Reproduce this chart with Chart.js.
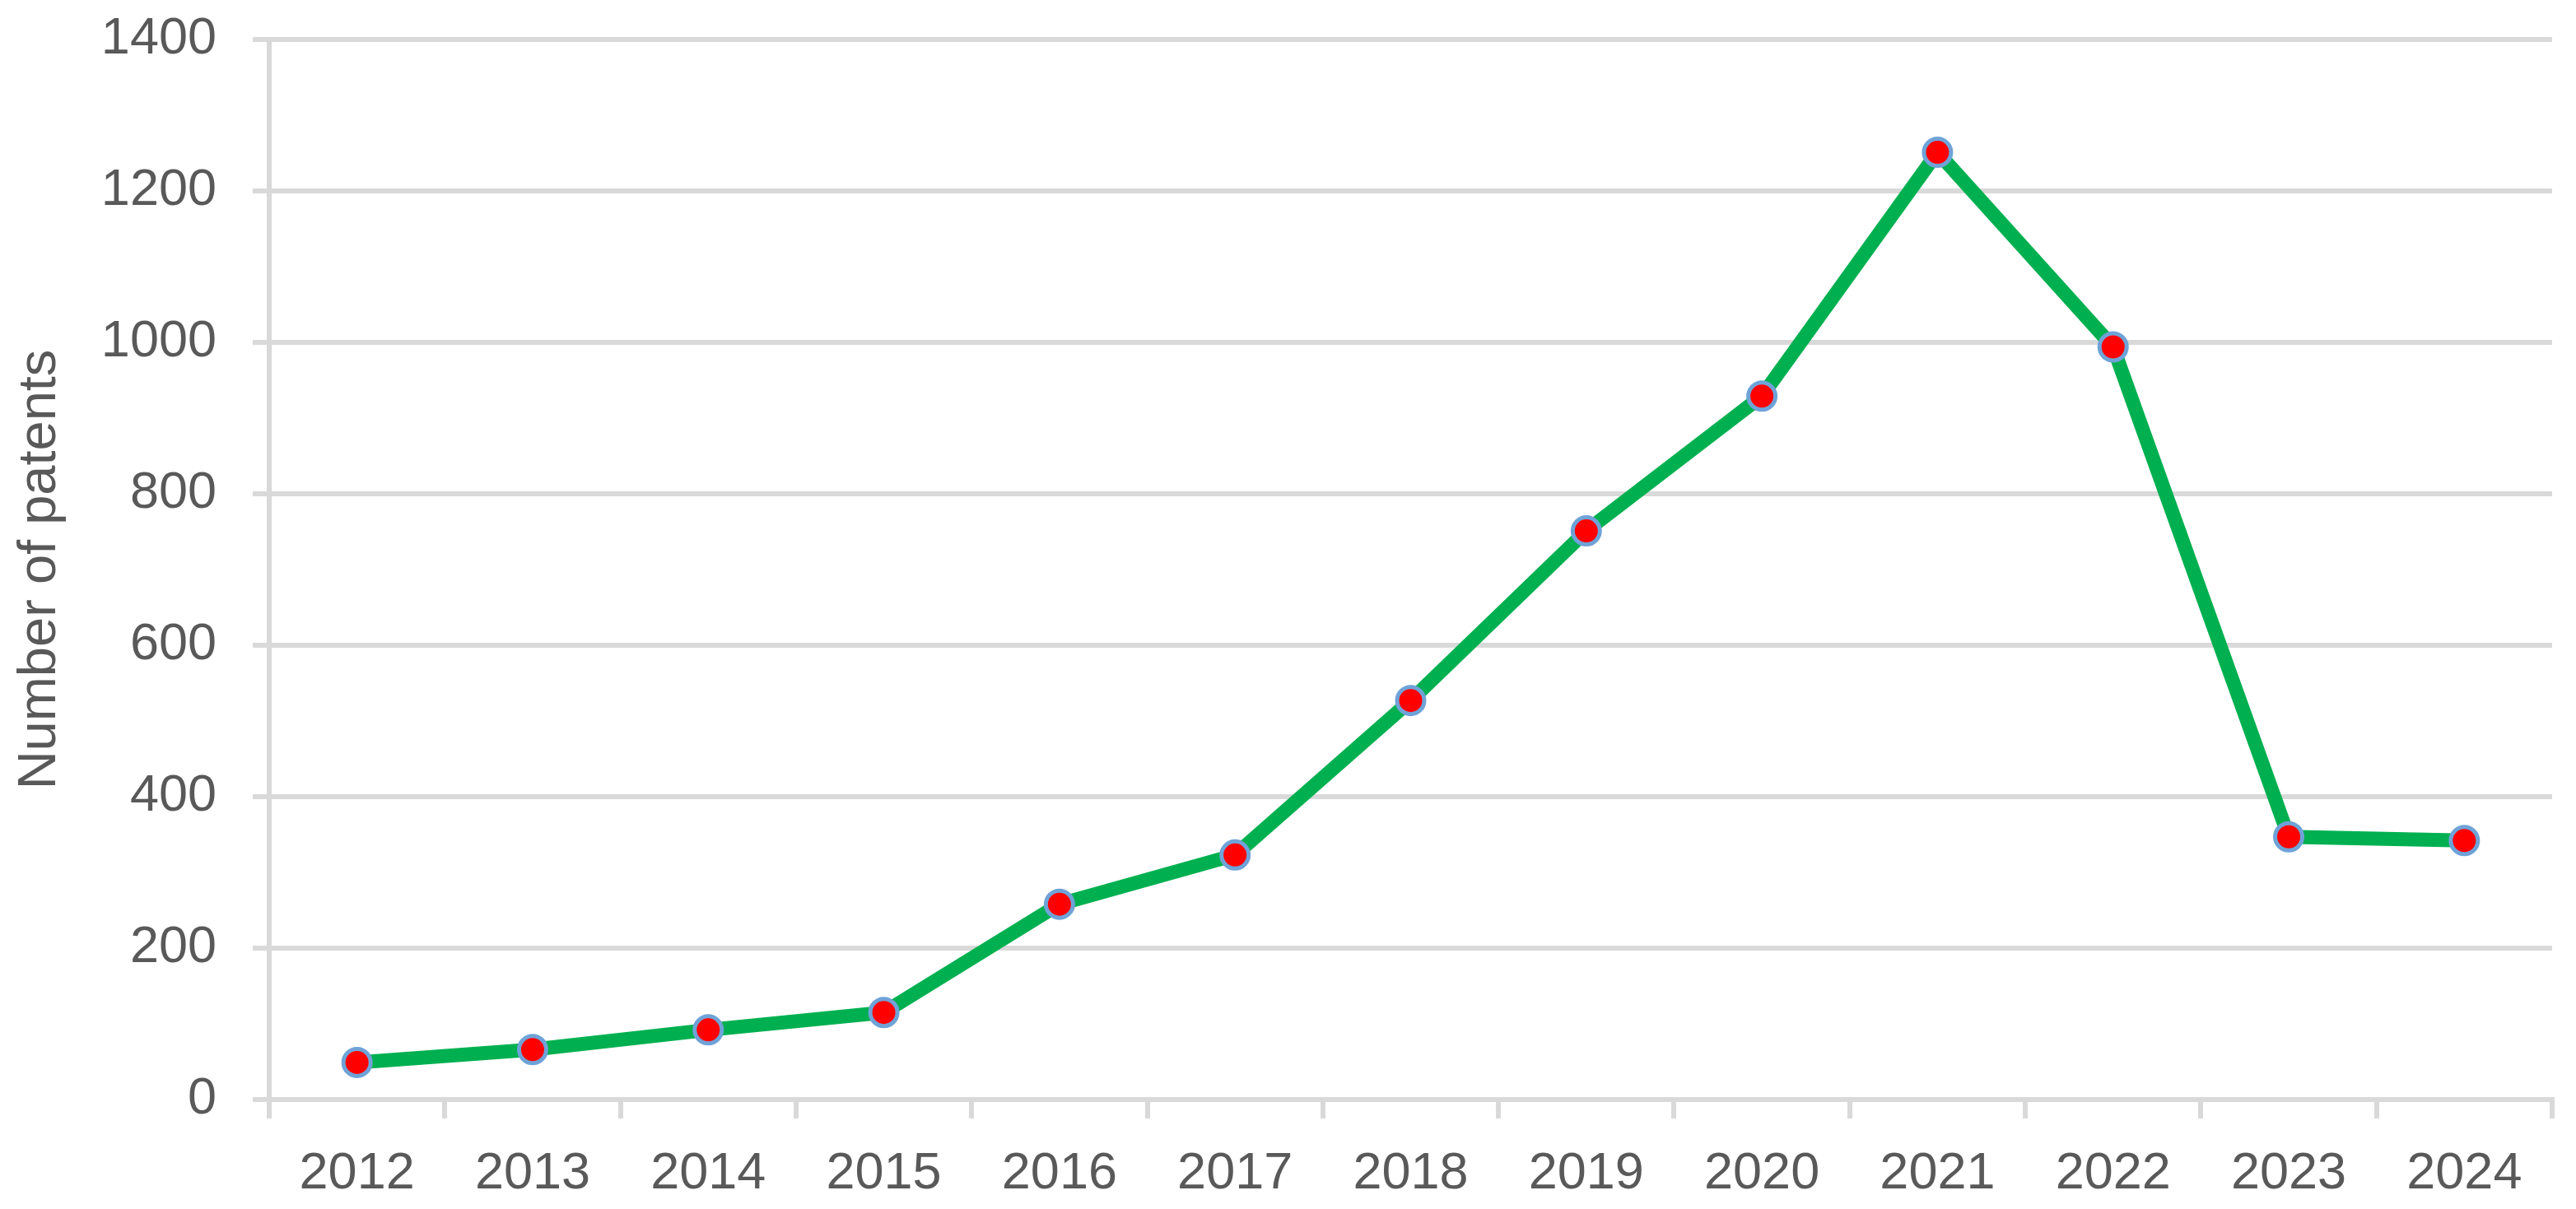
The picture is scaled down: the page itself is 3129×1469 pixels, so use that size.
<!DOCTYPE html>
<html>
<head>
<meta charset="utf-8">
<script src="https://cdn.jsdelivr.net/npm/chart.js@4.4.1/dist/chart.umd.min.js"></script>
<style>
  html, body { margin: 0; padding: 0; background: #ffffff; }
  #wrap { width: 3129px; height: 1469px; position: relative; }
</style>
</head>
<body>
<div id="wrap"><canvas id="myChart"></canvas></div>
<script>
// dati
const years = ["2012", "2013", "2014", "2015", "2016", "2017", "2018", "2019", "2020", "2021", "2022", "2023", "2024"];
const patents = [49, 66, 92, 115, 258, 323, 527, 751, 929, 1251, 994, 347, 342];
const yMin = 0;
const yMax = 1400;
const yStep = 200;

const gridColor = "#d9d9d9";
const textColor = "#595959";

const ctx = document.getElementById("myChart").getContext("2d");
const myChart = new Chart(ctx, {
  type: "line",
  data: {
    labels: years,
    datasets: [
      {
        label: "Number of patents",
        data: patents,
        borderColor: "#00b050",
        borderWidth: 17,
        tension: 0,
        fill: false,
        pointRadius: 16.5,
        pointBorderWidth: 5,
        pointBackgroundColor: "#ff0000",
        pointBorderColor: "#6fa3d8",
      },
    ],
  },
  options: {
    responsive: true,
    maintainAspectRatio: false,
    animation: false,
    layout: {
      padding: { left: 0, right: 29, top: 48, bottom: 0 },
    },
    plugins: {
      legend: { display: false },
      tooltip: { enabled: false },
    },
    scales: {
      x: {
        offset: true,
        grid: {
          offset: true,
          drawOnChartArea: false,
          drawTicks: true,
          tickLength: 23,
          color: gridColor,
          lineWidth: 6,
        },
        border: { display: true, color: gridColor, width: 6 },
        ticks: {
          color: textColor,
          padding: 30,
          maxRotation: 0,
          font: { family: "Liberation Sans, Arial, sans-serif", size: 63 },
        },
        afterFit: (scale) => {
          scale.height = 1469 - 1336;
          scale.paddingLeft = 0;
          scale.paddingRight = 0;
        },
      },
      y: {
        min: yMin,
        max: yMax,
        grid: {
          color: gridColor,
          lineWidth: 6,
          drawTicks: true,
          tickLength: 20,
        },
        border: { display: true, color: gridColor, width: 6 },
        ticks: {
          stepSize: yStep,
          color: textColor,
          padding: 44,
          font: { family: "Liberation Sans, Arial, sans-serif", size: 63 },
          callback: (value) => String(value),
        },
        title: {
          display: true,
          text: "Number of patents",
          color: textColor,
          padding: { top: 10, bottom: 0 },
          font: { family: "Liberation Sans, Arial, sans-serif", size: 65 },
        },
        afterFit: (scale) => {
          scale.width = 327;
          scale.paddingTop = 0;
          scale.paddingBottom = 0;
        },
      },
    },
  },
});
</script>
</body>
</html>
